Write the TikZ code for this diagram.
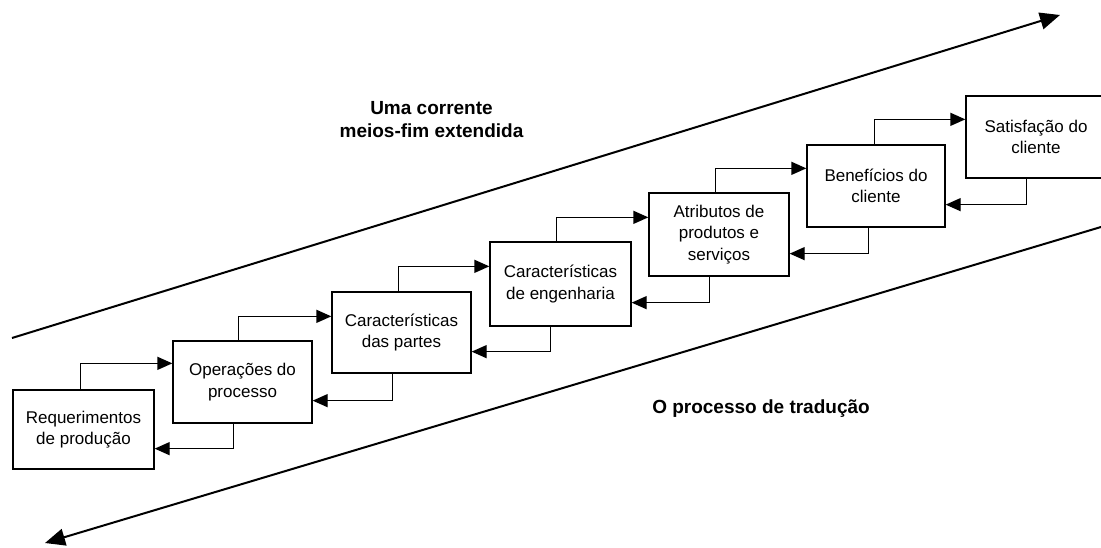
\documentclass[tikz,border=0pt]{standalone}
\usepackage{fontspec}
\setmainfont{Liberation Sans}
\usetikzlibrary{arrows.meta}
\begin{document}
\begin{tikzpicture}[x=1pt,y=-1pt,
 box/.style={draw,line width=1.3pt,rectangle,inner sep=0pt,align=center,font=\fontsize{17}{21.5}\selectfont},
 link/.style={line width=1.3pt,-{Triangle[length=15pt,width=13pt]}},
 big/.style={line width=2pt,-{Triangle[length=20pt,width=17pt]}},
 lbl/.style={align=center,font=\bfseries\fontsize{19}{23}\selectfont}]
\useasboundingbox (0,0) rectangle (1101,548);
% boxes
\node[box,minimum width=141pt,minimum height=79pt] (b1) at (83.5,429.5) {Requerimentos\\de produção};
\node[box,minimum width=139pt,minimum height=82pt] (b2) at (242.5,382) {Operações do\\processo};
\node[box,minimum width=139pt,minimum height=81pt] (b3) at (401.5,332.5) {Características\\das partes};
\node[box,minimum width=141pt,minimum height=84pt] (b4) at (560.5,284) {Características\\de engenharia};
\node[box,minimum width=140pt,minimum height=83pt] (b5) at (719,234.5) {Atributos de\\produtos e\\serviços};
\node[box,minimum width=138pt,minimum height=82pt] (b6) at (876,186) {Benefícios do\\cliente};
\node[box,minimum width=140pt,minimum height=82pt] (b7) at (1036,137) {Satisfação do\\cliente};
% forward connectors
\draw[link] ([xshift=68pt]b1.north west) |- ([yshift=-23pt]b2.north west);
\draw[link] ([xshift=66pt]b2.north west) |- ([yshift=-25pt]b3.north west);
\draw[link] ([xshift=67pt]b3.north west) |- ([yshift=-25pt]b4.north west);
\draw[link] ([xshift=67pt]b4.north west) |- ([yshift=-25pt]b5.north west);
\draw[link] ([xshift=67pt]b5.north west) |- ([yshift=-24pt]b6.north west);
\draw[link] ([xshift=68pt]b6.north west) |- ([yshift=-24pt]b7.north west);
% backward connectors
\draw[link] ([xshift=61pt]b2.south west) |- ([yshift=21pt]b1.south east);
\draw[link] ([xshift=61pt]b3.south west) |- ([yshift=23pt]b2.south east);
\draw[link] ([xshift=61pt]b4.south west) |- ([yshift=22pt]b3.south east);
\draw[link] ([xshift=61pt]b5.south west) |- ([yshift=24pt]b4.south east);
\draw[link] ([xshift=62pt]b6.south west) |- ([yshift=23pt]b5.south east);
\draw[link] ([xshift=61pt]b7.south west) |- ([yshift=23pt]b6.south east);
% big arrows
\coordinate (u0) at (12,338);
\coordinate (u1) at (1060,15);
\coordinate (l0) at (1115,222.8);
\coordinate (l1) at (45,543);
\draw[big] (u0) -- (u1);
\draw[big] (l0) -- (l1);
% labels
\node[lbl] (t1) at (431.5,120) {Uma corrente\\meios-fim extendida};
\node[lbl] (t2) at (761,409) {O processo de tradução};
\end{tikzpicture}
\end{document}
